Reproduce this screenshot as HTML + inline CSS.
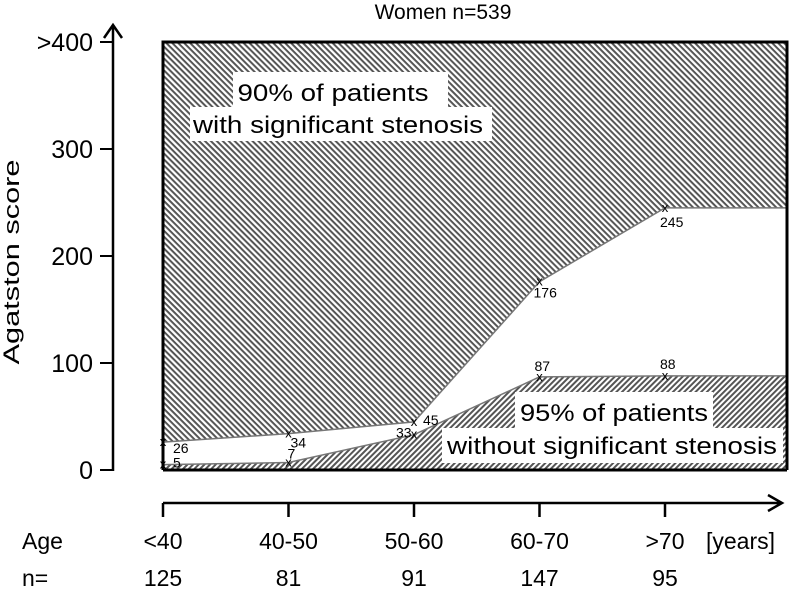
<!DOCTYPE html>
<html><head><meta charset="utf-8"><style>
body{margin:0;background:#fff;font-family:"Liberation Sans","DejaVu Sans",sans-serif}
text{font-family:"Liberation Sans","DejaVu Sans",sans-serif}
</style></head><body>
<svg width="793" height="590" viewBox="0 0 793 590">
<defs>
<pattern id="hu" patternUnits="userSpaceOnUse" width="4.2" height="4.2" patternTransform="rotate(45)">
<rect width="4.2" height="4.2" fill="#fff"/><rect width="4.2" height="2" fill="#555"/>
</pattern>
<pattern id="hl" patternUnits="userSpaceOnUse" width="4" height="4" patternTransform="rotate(-45)">
<rect width="4" height="4" fill="#fff"/><rect width="4" height="2" fill="#555"/>
</pattern>
</defs>
<g id="plot"></g>
</svg>
<script>
const categories=["<40","40-50","50-60","60-70",">70"];
const counts=["125","81","91","147","95"];
const upperValues=[26,34,45,176,245];
const lowerValues=[5,7,33,87,88];
const yTicks=[0,100,200,300];
const NS="http://www.w3.org/2000/svg";
const g=document.getElementById('plot');
const xs=i=>163+i*125.5;
const xEnd=787;
const y=v=>470-v*1.07;
function mk(t,a,txt){const e=document.createElementNS(NS,t);for(const k in a)e.setAttribute(k,a[k]);if(txt!==undefined)e.textContent=txt;g.appendChild(e);return e;}
let d="M163,42 L"+xEnd+",42 L"+xEnd+","+y(upperValues[4]);
for(let i=upperValues.length-1;i>=0;i--)d+=" L"+xs(i)+","+y(upperValues[i]);
d+=" Z";
let e=mk('path',{d:d,fill:'url(#hu)'});


d="M163,470";
for(let i=0;i<lowerValues.length;i++)d+=" L"+xs(i)+","+y(lowerValues[i]);
d+=" L"+xEnd+","+y(lowerValues[4])+" L"+xEnd+",470 Z";
e=mk('path',{d:d,fill:'url(#hl)'});


[[upperValues,'upper-line'],[lowerValues,'lower-line']].forEach(([vals,n])=>{
 let p=vals.map((v,i)=>xs(i)+","+y(v)).join(" ")+" "+xEnd+","+y(vals[4]);
 const l=mk('polyline',{points:p,fill:'none',stroke:'#777','stroke-width':1.5});
 
 
 vals.forEach((v,i)=>{
  const t=mk('text',{x:xs(i),y:y(v)+4,'font-size':13,'text-anchor':'middle'},'x');
  
  
 });
});
const upOff=[[10,11],[2,14],[9,3],[-6,16],[-5,19]];
upperValues.forEach((v,i)=>{const t=mk('text',{x:xs(i)+upOff[i][0],y:y(v)+upOff[i][1],'font-size':14,'text-anchor':'start'},String(v));
});
const loOff=[[10,3],[-1,-4],[-18,3],[-5,-6],[-5,-7]];
lowerValues.forEach((v,i)=>{const t=mk('text',{x:xs(i)+loOff[i][0],y:y(v)+loOff[i][1],'font-size':14,'text-anchor':'start'},String(v));
});
e=mk('path',{d:"M163,470 L163,42 L787,42 L787,470",fill:'none',stroke:'#000','stroke-width':3});

e=mk('line',{x1:163,y1:470,x2:787,y2:470,stroke:'#000','stroke-width':3});

e=mk('path',{d:"M113,471 L113,25 M104,38 L113,25 L122,38",fill:'none',stroke:'#000','stroke-width':2.5});

yTicks.concat([400]).forEach(v=>{
 const l=mk('line',{x1:100,x2:113,y1:y(v),y2:y(v),stroke:'#000','stroke-width':2});
 
 const t=mk('text',{x:93,y:y(v)+9,'font-size':25,'text-anchor':'end'},v==400?'>400':String(v));
 
});
e=mk('text',{x:19,y:262,'font-size':22,'text-anchor':'middle',textLength:205,lengthAdjust:'spacingAndGlyphs',transform:'rotate(-90 19 262)'},'Agatston score');

e=mk('path',{d:"M163,503 L780,503 M768,495 L782,503 L768,511",fill:'none',stroke:'#000','stroke-width':2.5});

categories.forEach((c,i)=>{
 const k=mk('line',{x1:xs(i),x2:xs(i),y1:503,y2:517,stroke:'#000','stroke-width':2.5});
 
 const t=mk('text',{x:xs(i),y:549,'font-size':23,'text-anchor':'middle'},c);
 
 const n=mk('text',{x:xs(i),y:586,'font-size':23,'text-anchor':'middle'},counts[i]);
 
});
[['Age',22,549,'age-label'],['n=',22,586,'n-label'],['[years]',706,549,'years-label']].forEach(a=>{
 const t=mk('text',{x:a[1],y:a[2],'font-size':23},a[0]);
 
});
e=mk('text',{x:443,y:19,'font-size':21,'text-anchor':'middle'},'Women n=539');

function box(x,yy,w,h,s,n,ty,tl,cx){
 const r=mk('rect',{x:x,y:yy,width:w,height:h,fill:'#fff'});
 
 const t=mk('text',{x:cx,y:ty,'font-size':24,'text-anchor':'middle',textLength:tl,lengthAdjust:'spacingAndGlyphs'},s);
 
}
box(233,72,215,36,'90% of patients','upper-annotation-line1',101,191,333);
box(190,107,302,34,'with significant stenosis','upper-annotation-line2',133,290,338);
box(515,392,198,36,'95% of patients','lower-annotation-line1',421,188,614);
box(442,428,341,35,'without significant stenosis','lower-annotation-line2',454,330,612);
</script>
</body></html>
